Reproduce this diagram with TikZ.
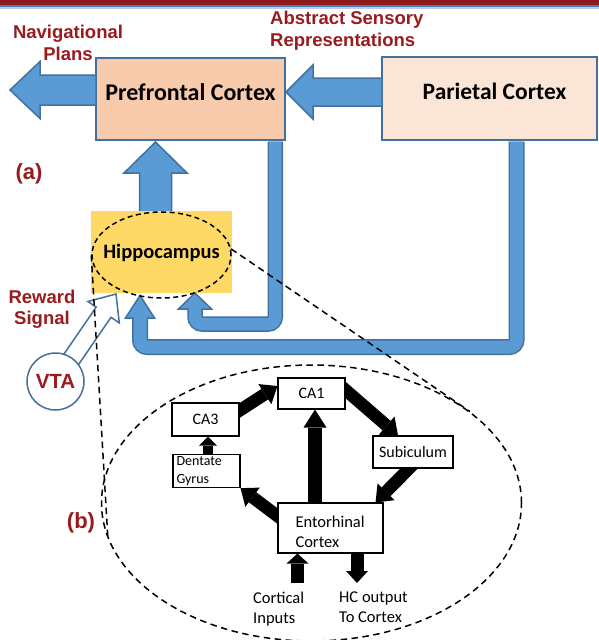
\documentclass[tikz,border=0pt]{standalone}
\usepackage{fontspec}
\setmainfont{Carlito}
\newfontfamily\arialf{Liberation Sans}
\usetikzlibrary{arrows.meta,shapes.geometric,calc}
\pgfdeclarelayer{arrowlayer}
\pgfsetlayers{arrowlayer,main}
\definecolor{barred}{HTML}{8E1A1C}
\definecolor{labred}{HTML}{9A1B1E}
\definecolor{bluef}{HTML}{5B9BD5}
\definecolor{bluedk}{HTML}{41719C}
\definecolor{pfcfill}{HTML}{F8CBAD}
\definecolor{parfill}{HTML}{FBE5D6}
\definecolor{hipyel}{HTML}{FFD966}
\definecolor{barblue}{HTML}{4A7DBA}
\definecolor{barlight}{HTML}{B9CDE5}
\tikzset{
  cortex/.style={rectangle, draw=bluedk, line width=1.5pt, inner sep=0pt,
    font=\fontsize{24}{28}\selectfont\bfseries},
  bluearrow/.style={fill=bluef, draw=bluedk, line width=1.5pt, line join=miter},
  redlab/.style={text=labred, inner sep=0pt,
    font=\arialf\bfseries\fontsize{18.5}{21.5}\selectfont},
  biglab/.style={text=labred, inner sep=0pt,
    font=\arialf\bfseries\fontsize{22}{26}\selectfont},
  hcbox/.style={rectangle, draw=black, line width=1.1pt, fill=white, inner sep=2pt,
    font=\fontsize{16}{20}\selectfont},
  hctext/.style={inner sep=0pt, align=left, anchor=west,
    font=\fontsize{16.5}{20}\selectfont},
  blk/.style={draw=black, line width=12.5pt,
    -{Triangle[length=15pt,width=24pt,line width=0pt]}},
  dashln/.style={draw=black, line width=1.5pt, dash pattern=on 6.5pt off 4.5pt},
}
\begin{document}
\begin{tikzpicture}[x=1pt,y=-1pt]
\useasboundingbox (0,0) rectangle (599,640);
\clip (0,0) rectangle (599,640);
% top bar
\fill[barred] (0,0) rectangle (599,5);
\fill[barblue] (0,5) rectangle (599,7.3);
\fill[barlight] (0,7.3) rectangle (599,8.5);

% cortex boxes
\node[cortex, fill=pfcfill, minimum width=189pt, minimum height=82pt,
  text height=16pt, text depth=13.6pt] (pfc) at (190.5,99) {Prefrontal Cortex};
\node[cortex, fill=parfill, minimum width=215pt, minimum height=83pt,
  font=\fontsize{23.5}{28}\selectfont\bfseries,
  text height=16pt, text depth=13.8pt] (par) at (489.5,98.5) {\hspace*{10pt}Parietal Cortex};

% block arrows
\draw[bluearrow] (96,75) -- (40,75) -- (40,61.5) -- (10,90) -- (40,118.5) -- (40,105) -- (96,105) -- cycle;
\draw[bluearrow] (382,78) -- (313,78) -- (313,65) -- (286,92) -- (313,119) -- (313,106) -- (382,106) -- cycle;
\draw[bluearrow] (139.5,212) -- (139.5,173) -- (124,173) -- (155.5,142) -- (187,173) -- (171.5,173) -- (171.5,212) -- cycle;

% hippocampus background
\node[fill=hipyel, minimum width=141pt, minimum height=82pt, inner sep=0pt,
  font=\fontsize{20.5}{24}\selectfont\bfseries, text height=13.2pt, text depth=0pt]
  (hipbg) at (161.5,252) {Hippocampus};

% connector PFC -> hippocampus
\coordinate (h1) at (195,293);
\draw[bluedk, line width=15.5pt, rounded corners=7pt]
  ([xshift=-10.5pt,yshift=-0.8pt]pfc.south east) |- (195,324) -- (195,309);
\draw[bluearrow] (178.5,309) -- (h1) -- (211.5,309) -- cycle;
\draw[bluef, line width=12.5pt, rounded corners=7pt]
  ([xshift=-10.5pt,yshift=-0.8pt]pfc.south east) |- (195,324) -- (195,307);

% connector parietal -> hippocampus
\coordinate (h2) at (140,295.5);
\draw[bluedk, line width=16pt, rounded corners=7pt]
  ([xshift=27pt,yshift=-0.8pt]par.south) |- (140,347) -- (140,318);
\draw[bluearrow] (125.5,318) -- (h2) -- (154.5,318) -- cycle;
\draw[bluef, line width=13pt, rounded corners=7pt]
  ([xshift=27pt,yshift=-0.8pt]par.south) |- (140,347) -- (140,316);

% hippocampus ellipse
\node[ellipse, draw=black, line width=1.5pt, dash pattern=on 5pt off 3.5pt,
  minimum width=139pt, minimum height=86pt, inner sep=0pt] (hip) at (161.5,255) {};

% VTA and reward arrow
\draw[fill=white, draw=bluedk, line width=1.5pt, line join=miter]
  (58.9,361.4) -- (96.2,307.1) -- (87.9,301.5) -- (116,294) -- (119.3,322.9) -- (111.0,317.3) -- (73.7,371.6) -- cycle;
\node[circle, draw=bluedk, line width=1.5pt, fill=white, minimum size=57pt, inner sep=0pt,
  text=labred, font=\arialf\bfseries\fontsize{20.5}{24}\selectfont] (vta) at (55.5,381.5) {VTA};

% big ellipse and zoom lines
\node[ellipse, dashln, minimum width=420pt, minimum height=276pt, inner sep=0pt] (big) at (311.5,503) {};
\draw[dashln] (hip.5) -- (big.30.4);
\draw[dashln] (hip.west) -- (big.190.3);

% hippocampal circuit boxes
\node[hcbox, minimum width=67pt, minimum height=31pt] (ca1) at (311.5,393.5) {CA1};
\node[hcbox, minimum width=67pt, minimum height=33pt] (ca3) at (205.5,419.5) {CA3};
\node[hcbox, minimum width=67pt, minimum height=32pt, font=\fontsize{14}{18}\selectfont,
  text width=60pt, align=left] (dg) at (206.5,471) {Dentate\\Gyrus};
\node[hcbox, minimum width=80pt, minimum height=32pt] (sub) at (413,452) {Subiculum};
\node[hcbox, minimum width=105pt, minimum height=50pt, font=\fontsize{16.5}{20}\selectfont,
  text width=70pt, align=left] (ec) at (330.5,528) {\rule{0pt}{19pt}Entorhinal\\Cortex};
\coordinate (cin) at (297.5,583);
\coordinate (hcout) at (357,583);

\begin{pgfonlayer}{arrowlayer}
\draw[blk, shorten <=-5pt] ([yshift=9pt]ca3.east) -- ([yshift=7.5pt]ca1.west);
\draw[blk, shorten <=-5pt] ([yshift=3.5pt]ca1.east) -- ([xshift=-15pt]sub.north);
\draw[blk, shorten <=-5pt] ([xshift=-4pt]sub.south) -- ([xshift=-8pt]ec.north east);
\draw[blk, shorten <=-5pt] ([yshift=12pt]ec.west) -- (dg.south east);
\draw[blk, line width=14pt, shorten <=-5pt, -{Triangle[length=18pt,width=23pt,line width=0pt]}]
  ([xshift=-15.5pt]ec.north) -- ([xshift=3.5pt]ca1.south);
\draw[blk, line width=10pt, shorten <=-4pt, -{Triangle[length=9pt,width=18pt,line width=0pt]}]
  ([xshift=1.5pt]dg.north) -- ([xshift=2.5pt]ca3.south);
\draw[blk, line width=13pt, -{Triangle[length=10pt,width=22pt,line width=0pt]}]
  (cin) -- ([xshift=-33pt]ec.south);
\draw[blk, line width=13pt, shorten <=-5pt, -{Triangle[length=12pt,width=22pt,line width=0pt]}]
  ([xshift=26.5pt]ec.south) -- (hcout);
\end{pgfonlayer}

\node[hctext] (cilab) at (253,608.6) {Cortical\\Inputs};
\node[hctext] (hclab) at (339,607.5) {HC output\\To Cortex};

% red labels
\node[redlab, align=center] (navlab) at (68,42.75) {Navigational\\Plans};
\node[redlab, align=left, anchor=west] (abslab) at (270,30.7) {Abstract Sensory\\Representations};
\node[redlab, align=center] (rewlab) at (42,309.5) {Reward\\Signal};
\node[biglab] (alab) at (29,174) {(a)};
\node[biglab] (blab) at (81,522.5) {(b)};
\end{tikzpicture}
\end{document}
